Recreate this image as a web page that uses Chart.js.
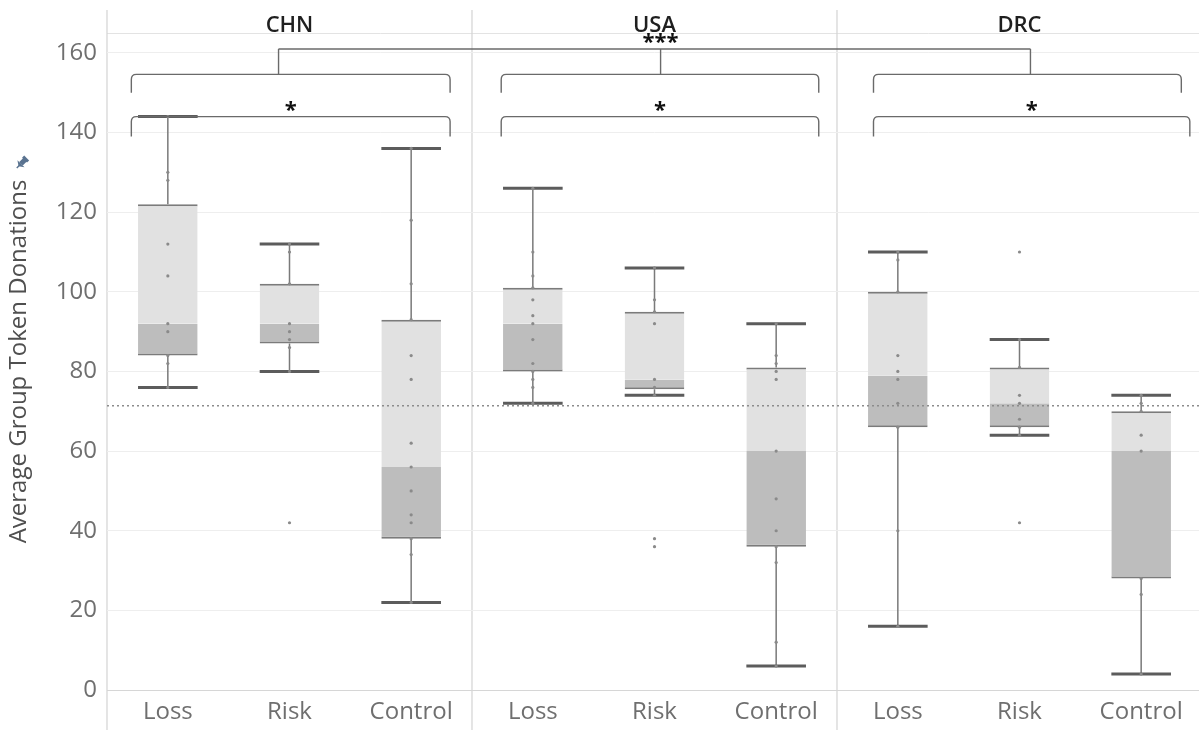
<!DOCTYPE html>
<html>
<head>
<meta charset="utf-8">
<script src="https://cdn.jsdelivr.net/npm/chart.js@4.4.1/dist/chart.umd.min.js"></script>
<style>
  html, body { margin: 0; padding: 0; background: #fff; overflow: hidden; }
  canvas { display: block; }
</style>
</head>
<body>
<canvas id="chart" width="1206" height="730"></canvas>
<script>
const groups = ["CHN", "USA", "DRC"];
const conditions = ["Loss", "Risk", "Control"];

// box stats, order: CHN Loss/Risk/Control, USA ..., DRC ...
const whiskerLow  = [76, 80, 22, 72, 74, 6, 16, 64, 4];
const q1          = [84, 87, 38, 80, 75.5, 36, 66, 66, 28];
const median      = [92, 92, 56, 92, 78, 60, 79, 72, 60];
const q3          = [122, 102, 93, 101, 95, 81, 100, 81, 70];
const whiskerHigh = [144, 112, 136, 126, 106, 92, 110, 88, 74];

// individual group donations (dots)
const chnLoss    = [144, 130, 128, 112, 104, 92, 90, 84, 82, 76];
const chnRisk    = [112, 110, 102, 92, 90, 88, 86, 80, 42];
const chnControl = [136, 118, 102, 93, 84, 78, 62, 56, 50, 44, 42, 38, 34, 22];
const usaLoss    = [126, 110, 104, 101, 98, 94, 92, 88, 82, 80, 78, 76, 72];
const usaRisk    = [106, 98, 95, 92, 78, 76, 74, 38, 36];
const usaControl = [92, 84, 82, 80, 78, 60, 48, 40, 36, 32, 12, 6];
const drcLoss    = [110, 108, 100, 84, 80, 78, 72, 66, 40, 16];
const drcRisk    = [110, 88, 81, 74, 72, 68, 66, 64, 42];
const drcControl = [74, 72, 70, 64, 60, 28, 24, 4];
const groupPoints = [chnLoss, chnRisk, chnControl, usaLoss, usaRisk, usaControl, drcLoss, drcRisk, drcControl];

const refLine = 71.4;
const yTicks = [0, 20, 40, 60, 80, 100, 120, 140, 160];

// significance marks
const innerStars = ["*", "*", "*"];
const linkStars = "***";
const sig = { innerTop: 144, innerEnd: 139, outerTop: 154.6, outerEnd: 150, linkTop: 161, innerStar: 147, linkStar: 164 };
const brLeft = [-0.3, 2.74, 5.8];
const brOuterRight = [2.32, 5.35, 8.33];
const brInnerRight = [2.32, 5.35, 8.4];
const brStem = [0.91, 4.05, 7.09];

const labels = [];
groups.forEach(g => conditions.forEach(c => labels.push(g + "|" + c)));

const pointData = [];
groupPoints.forEach((vals, i) => vals.forEach(v => pointData.push({ x: labels[i], y: v })));

const FONT = "Open Sans";
const titleText = "Average Group Token Donations";

function bracket(ctx, x1, x2, yTop, yEnd, r) {
  ctx.beginPath();
  ctx.moveTo(x1, yEnd);
  ctx.lineTo(x1, yTop + r);
  ctx.quadraticCurveTo(x1, yTop, x1 + r, yTop);
  ctx.lineTo(x2 - r, yTop);
  ctx.quadraticCurveTo(x2, yTop, x2, yTop + r);
  ctx.lineTo(x2, yEnd);
  ctx.stroke();
}

const framePlugin = {
  id: "frame",
  beforeDraw(chart) {
    const { ctx, chartArea: a, scales: { x } } = chart;
    ctx.save();
    ctx.strokeStyle = "#e3e3e3";
    ctx.lineWidth = 1;
    ctx.beginPath();
    ctx.moveTo(a.left, a.top + 0.5);
    ctx.lineTo(a.right, a.top + 0.5);
    ctx.stroke();
    ctx.strokeStyle = "#d3d3d3";
    ctx.lineWidth = 1.2;
    const xs = [a.left];
    for (let g = 1; g < groups.length; g++) {
      xs.push((x.getPixelForValue(g * 3 - 1) + x.getPixelForValue(g * 3)) / 2);
    }
    xs.forEach(xx => {
      ctx.beginPath();
      ctx.moveTo(xx, 10);
      ctx.lineTo(xx, chart.height);
      ctx.stroke();
    });
    // panel titles
    ctx.fillStyle = "#1f1f1f";
    ctx.font = "600 22px '" + FONT + "'";
    ctx.textAlign = "center";
    ctx.textBaseline = "alphabetic";
    groups.forEach((g, i) => ctx.fillText(g, x.getPixelForValue(i * 3 + 1), 32));
    ctx.restore();
  },
  beforeDatasetsDraw(chart) {
    const { ctx, scales: { y } } = chart;
    const meta = chart.getDatasetMeta(2);
    ctx.save();
    labels.forEach((_, i) => {
      const bar = meta.data[i];
      const cx = bar.x, w = bar.width;
      ctx.strokeStyle = "#7a7a7a";
      ctx.lineWidth = 1.5;
      ctx.beginPath();
      ctx.moveTo(cx, y.getPixelForValue(q3[i]));
      ctx.lineTo(cx, y.getPixelForValue(whiskerHigh[i]));
      ctx.moveTo(cx, y.getPixelForValue(q1[i]));
      ctx.lineTo(cx, y.getPixelForValue(whiskerLow[i]));
      ctx.stroke();
      ctx.strokeStyle = "#5c5c5c";
      ctx.lineWidth = 3;
      ctx.beginPath();
      [whiskerHigh[i], whiskerLow[i]].forEach(v => {
        const yy = y.getPixelForValue(v);
        ctx.moveTo(cx - w / 2, yy);
        ctx.lineTo(cx + w / 2, yy);
      });
      ctx.stroke();
    });
    ctx.restore();
  },
  afterDatasetsDraw(chart) {
    const { ctx, chartArea: a, scales: { x, y } } = chart;
    ctx.save();
    // reference line
    ctx.strokeStyle = "#8c8c8c";
    ctx.lineWidth = 1.5;
    ctx.setLineDash([2, 3]);
    const ry = y.getPixelForValue(refLine);
    ctx.beginPath();
    ctx.moveTo(a.left, ry);
    ctx.lineTo(a.right, ry);
    ctx.stroke();
    ctx.setLineDash([]);

    // brackets
    ctx.strokeStyle = "#6a6a6a";
    ctx.lineWidth = 1.4;
    groups.forEach((g, i) => {
      const xl = x.getPixelForValue(brLeft[i]);
      const xo = x.getPixelForValue(brOuterRight[i]);
      const xi = x.getPixelForValue(brInnerRight[i]);
      bracket(ctx, xl, xo, y.getPixelForValue(sig.outerTop), y.getPixelForValue(sig.outerEnd), 5);
      bracket(ctx, xl, xi, y.getPixelForValue(sig.innerTop), y.getPixelForValue(sig.innerEnd), 5);
      const sx = x.getPixelForValue(brStem[i]);
      ctx.beginPath();
      ctx.moveTo(sx, y.getPixelForValue(sig.outerTop));
      ctx.lineTo(sx, y.getPixelForValue(sig.linkTop));
      ctx.stroke();
    });
    ctx.beginPath();
    ctx.moveTo(x.getPixelForValue(brStem[0]), y.getPixelForValue(sig.linkTop));
    ctx.lineTo(x.getPixelForValue(brStem[brStem.length - 1]), y.getPixelForValue(sig.linkTop));
    ctx.stroke();

    // stars
    const sz = 22;
    ctx.fillStyle = "#111";
    ctx.font = "bold " + sz + "px '" + FONT + "'";
    ctx.textAlign = "center";
    ctx.textBaseline = "alphabetic";
    groups.forEach((g, i) => {
      const mx = (x.getPixelForValue(brLeft[i]) + x.getPixelForValue(brInnerRight[i])) / 2;
      ctx.fillText(innerStars[i], mx, y.getPixelForValue(sig.innerStar) + sz * 0.56);
    });
    ctx.fillText(linkStars, x.getPixelForValue(brStem[1]), y.getPixelForValue(sig.linkStar) + sz * 0.56);

    // pin icon next to the axis title
    ctx.font = "24px '" + FONT + "'";
    const tw = ctx.measureText(titleText).width;
    const pinY = (a.top + a.bottom) / 2 - tw / 2 - 16;
    ctx.translate(21, pinY);
    ctx.rotate(Math.PI / 4);
    ctx.fillStyle = "#5a7390";
    ctx.fillRect(-3.5, -8, 7, 3);
    ctx.fillRect(-2.5, -6, 5, 6);
    ctx.beginPath();
    ctx.moveTo(-5, 0);
    ctx.lineTo(5, 0);
    ctx.lineTo(0, 3.5);
    ctx.closePath();
    ctx.fill();
    ctx.fillRect(-0.7, 0, 1.4, 6);
    ctx.restore();
  }
};

new Chart(document.getElementById("chart"), {
  type: "bar",
  data: {
    labels,
    datasets: [
      {
        type: "scatter",
        data: pointData,
        pointRadius: 1.6,
        pointBackgroundColor: "#8a8a8a",
        pointBorderWidth: 0,
        order: 0
      },
      {
        type: "bar",
        data: q1.map((v, i) => [v, median[i]]),
        backgroundColor: "#bdbdbd",
        borderColor: "#7b7b7b",
        borderWidth: { bottom: 2 },
        borderSkipped: false,
        grouped: false,
        barPercentage: 0.49,
        categoryPercentage: 1,
        order: 1
      },
      {
        type: "bar",
        data: median.map((v, i) => [v, q3[i]]),
        backgroundColor: "#e1e1e1",
        borderColor: "#7b7b7b",
        borderWidth: { top: 2 },
        borderSkipped: false,
        grouped: false,
        barPercentage: 0.49,
        categoryPercentage: 1,
        order: 1
      }
    ]
  },
  options: {
    responsive: false,
    animation: false,
    layout: { padding: { top: 33, left: 0, right: 0, bottom: 0 } },
    plugins: { legend: { display: false }, tooltip: { enabled: false } },
    scales: {
      x: {
        type: "category",
        labels,
        offset: true,
        grid: { display: false, drawTicks: false },
        border: { display: true, color: "#d6d6d6", width: 1 },
        ticks: {
          color: "#6f6f6f",
          font: { family: FONT, size: 24 },
          padding: 8,
          autoSkip: false,
          maxRotation: 0,
          callback: function (v) { return this.getLabelForValue(v).split("|")[1]; }
        },
        afterFit: s => { s.height = 40; }
      },
      y: {
        min: 0,
        max: 165,
        afterBuildTicks: s => { s.ticks = yTicks.map(v => ({ value: v })); },
        ticks: { color: "#6f6f6f", font: { family: FONT, size: 24 }, padding: 10 },
        grid: { color: "#eeeeee", drawTicks: false },
        border: { display: false },
        title: {
          display: true,
          text: titleText,
          color: "#4f4f4f",
          font: { family: FONT, size: 24 },
          padding: { top: 5, bottom: 0 }
        },
        afterFit: s => { s.width = 107; }
      }
    }
  },
  plugins: [framePlugin]
});
</script>
</body>
</html>
